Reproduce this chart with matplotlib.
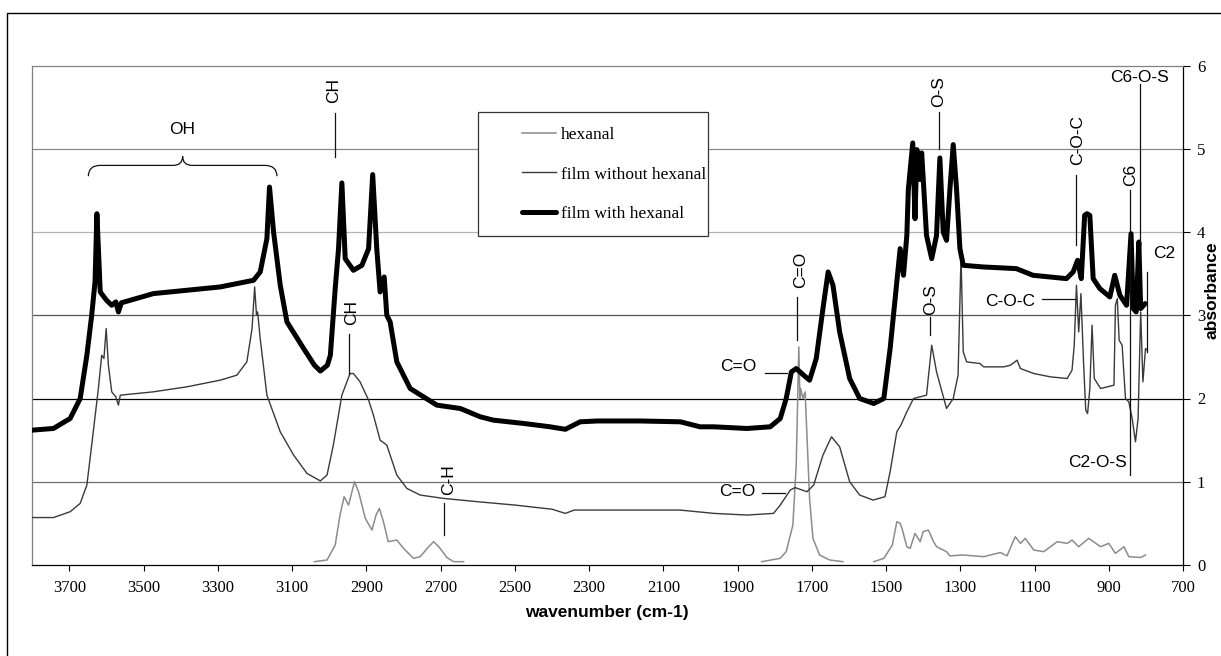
import numpy as np
import matplotlib
matplotlib.use("Agg")
import matplotlib.pyplot as plt
from matplotlib.lines import Line2D
from matplotlib.patches import Rectangle, PathPatch
from matplotlib.path import Path

NAN = np.nan

# ---------------- data ----------------
hexanal_wn = [3040, 3006, 2984, 2971, 2960, 2948, 2932, 2921, 2903, 2885, 2874, 2865, 2854, 2841,
              2818, 2800, 2773, 2755, 2732, 2719, 2705, 2683, 2665, 2638, NAN,
              1835, 1785, 1769, 1751, 1742, 1738, 1735, 1732, 1730, 1724, 1718, 1706, 1697, 1679,
              1652, 1616, NAN,
              1533, 1506, 1483, 1471, 1462, 1457, 1444, 1435, 1422, 1408, 1400, 1386, 1372, 1364,
              1337, 1328, 1292, 1237, 1192, 1174, 1152, 1138, 1125, 1102, 1075, 1039, 1012, 999,
              981, 954, 922, 900, 882, 859, 846, 814, 801]
hexanal_abs = [0.04, 0.06, 0.24, 0.60, 0.82, 0.72, 1.00, 0.88, 0.56, 0.42, 0.60, 0.68, 0.52, 0.28,
               0.30, 0.20, 0.08, 0.10, 0.22, 0.28, 0.22, 0.09, 0.04, 0.04, NAN,
               0.04, 0.08, 0.16, 0.48, 1.20, 2.00, 2.62, 2.00, 2.12, 2.00, 2.08, 0.80, 0.32, 0.12,
               0.06, 0.04, NAN,
               0.04, 0.08, 0.24, 0.52, 0.50, 0.44, 0.22, 0.20, 0.38, 0.28, 0.40, 0.42, 0.28, 0.22,
               0.16, 0.11, 0.12, 0.10, 0.15, 0.11, 0.34, 0.26, 0.32, 0.18, 0.16, 0.28, 0.26, 0.30,
               0.22, 0.32, 0.22, 0.26, 0.14, 0.22, 0.10, 0.09, 0.12]

without_wn = [3800, 3743, 3698, 3671, 3653, 3640, 3622, 3613, 3607, 3601, 3595, 3586, 3575, 3568,
              3563, 3474, 3384, 3294, 3249, 3222, 3208, 3201, 3196, 3193, 3186, 3168, 3132, 3096,
              3060, 3024, 3006, 2989, 2966, 2944, 2935, 2917, 2894, 2881, 2863, 2845, 2818, 2791,
              2755, 2692, 2600, 2500, 2400, 2364, 2340, 2200, 2055, 1964, 1875, 1803, 1785, 1758,
              1745, 1713, 1695, 1670, 1647, 1625, 1598, 1571, 1535, 1503, 1489, 1471, 1460, 1444,
              1426, 1391, 1377, 1364, 1337, 1319, 1306, 1298, 1292, 1283, 1247, 1237, 1183, 1165,
              1147, 1138, 1102, 1057, 1012, 999, 993, 987, 981, 975, 968, 962, 957, 951, 945, 939,
              922, 886, 882, 877, 872, 864, 855, 846, 837, 828, 821, 814, 808, 801, 796]
without_abs = [0.57, 0.57, 0.64, 0.74, 0.96, 1.44, 2.12, 2.52, 2.48, 2.84, 2.40, 2.08, 2.02, 1.92,
               2.04, 2.08, 2.14, 2.22, 2.28, 2.44, 2.84, 3.34, 3.00, 3.04, 2.72, 2.04, 1.60, 1.32,
               1.10, 1.01, 1.08, 1.44, 2.04, 2.30, 2.30, 2.20, 1.98, 1.80, 1.50, 1.44, 1.08, 0.92,
               0.84, 0.80, 0.76, 0.72, 0.67, 0.62, 0.66, 0.66, 0.66, 0.62, 0.60, 0.62, 0.72, 0.90,
               0.93, 0.88, 0.96, 1.32, 1.54, 1.42, 1.00, 0.84, 0.78, 0.82, 1.12, 1.60, 1.68, 1.84,
               2.00, 2.04, 2.64, 2.32, 1.88, 2.00, 2.28, 3.70, 2.56, 2.44, 2.42, 2.38, 2.38, 2.40,
               2.46, 2.36, 2.30, 2.26, 2.24, 2.34, 2.64, 3.36, 2.80, 3.26, 2.44, 1.86, 1.82, 2.12,
               2.88, 2.24, 2.12, 2.16, 3.12, 3.20, 2.70, 2.64, 2.00, 1.96, 1.76, 1.48, 1.76, 3.04,
               2.20, 2.60, 2.58]

with_wn = [3800, 3743, 3698, 3671, 3653, 3640, 3631, 3626, 3620, 3617, 3600, 3586, 3575, 3568,
           3560, 3536, 3474, 3384, 3294, 3204, 3186, 3168, 3161, 3150, 3132, 3114, 3069, 3040,
           3024, 3005, 2997, 2984, 2975, 2966, 2957, 2935, 2912, 2894, 2883, 2872, 2863, 2852,
           2845, 2836, 2818, 2782, 2710, 2647, 2593, 2558, 2476, 2405, 2364, 2324, 2278, 2162,
           2054, 2001, 1964, 1875, 1812, 1785, 1769, 1755, 1742, 1722, 1706, 1688, 1670, 1656,
           1643, 1625, 1598, 1571, 1533, 1506, 1489, 1471, 1462, 1453, 1444, 1440, 1428, 1422,
           1417, 1408, 1404, 1398, 1391, 1377, 1364, 1355, 1346, 1337, 1328, 1319, 1310, 1301,
           1292, 1238, 1149, 1104, 1014, 996, 984, 974, 965, 959, 951, 942, 924, 897, 884, 870,
           852, 840, 834, 826, 819, 814, 802]
with_abs = [1.62, 1.64, 1.76, 2.00, 2.52, 3.00, 3.40, 4.22, 3.60, 3.28, 3.18, 3.12, 3.16, 3.04,
            3.15, 3.18, 3.26, 3.30, 3.34, 3.42, 3.52, 3.92, 4.54, 4.00, 3.36, 2.92, 2.60, 2.40,
            2.33, 2.40, 2.52, 3.32, 3.80, 4.59, 3.68, 3.54, 3.60, 3.80, 4.69, 3.80, 3.28, 3.46,
            3.00, 2.92, 2.44, 2.12, 1.92, 1.88, 1.78, 1.74, 1.70, 1.66, 1.63, 1.72, 1.73, 1.73,
            1.72, 1.66, 1.66, 1.64, 1.66, 1.76, 2.00, 2.32, 2.36, 2.28, 2.22, 2.48, 3.08, 3.52,
            3.36, 2.80, 2.24, 2.00, 1.94, 2.00, 2.60, 3.40, 3.80, 3.48, 3.96, 4.51, 5.07, 4.16,
            4.99, 4.63, 4.95, 4.50, 3.96, 3.68, 3.96, 4.89, 4.00, 3.90, 4.51, 5.05, 4.51, 3.80,
            3.60, 3.58, 3.56, 3.48, 3.44, 3.52, 3.66, 3.44, 4.20, 4.22, 4.20, 3.44, 3.32, 3.22,
            3.48, 3.24, 3.12, 3.98, 3.08, 3.04, 3.88, 3.08, 3.14]

series_labels = ["hexanal", "film without hexanal", "film with hexanal"]
x_ticks = list(range(700, 3701, 200))
y_ticks = [0, 1, 2, 3, 4, 5, 6]

# annotations: (text, text_wn, text_abs, rotation, ha, line_wn_list, line_abs_list)
annotations = [
    ("CH", 2989, 5.70, 90, "center", [2984, 2984], [5.43, 4.90]),
    ("CH", 2939, 3.03, 90, "center", [2948, 2948], [2.78, 2.30]),
    ("C-H", 2678, 1.02, 90, "center", [2692, 2692], [0.74, 0.36]),
    ("C=O", 1729, 3.54, 90, "center", [1740, 1740], [3.22, 2.70]),
    ("C=O", 1897, 2.38, 0, "center", [1825, 1767], [2.31, 2.31]),
    ("C=O", 1902, 0.88, 0, "center", [1834, 1771], [0.87, 0.87]),
    ("O-S", 1381, 3.19, 90, "center", [1381, 1381], [2.98, 2.76]),
    ("O-S", 1358, 5.69, 90, "center", [1356, 1356], [5.44, 5.00]),
    ("C-O-C", 985, 5.10, 90, "center", [987, 987], [4.68, 3.84]),
    ("C-O-C", 1166, 3.17, 0, "center", [1080, 990], [3.19, 3.19]),
    ("C6", 842, 4.69, 90, "center", [843, 843], [4.50, 1.08]),
    ("C2-O-S", 851, 1.23, 0, "right", None, None),
    ("C6-O-S", 816, 5.86, 0, "center", [816, 816], [5.78, 3.87]),
    ("C2", 780, 3.74, 0, "left", [797, 797], [3.52, 2.56]),
]

# ---------------- figure ----------------
W, H = 1221, 656
fig = plt.figure(figsize=(W / 100, H / 100), dpi=100)
fig.patch.set_facecolor("white")


def fx(px):
    return px / W


def fy(py):
    return 1 - py / H


ax = fig.add_axes([fx(32.3), fy(565), fx(1183) - fx(32.3), fy(65.5) - fy(565)])
ax.set_xlim(3800, 700)
ax.set_ylim(0, 6)

SERIF = "Liberation Serif"
SANS = "Liberation Sans"

# grid lines with individual shades
grid_colors = {1: "#6e6e6e", 2: "#000000", 3: "#555555", 4: "#b4b4b4", 5: "#8a8a8a"}
for yv, c in grid_colors.items():
    ax.axhline(yv, color=c, lw=0.9, zorder=1)

l1, = ax.plot(hexanal_wn, hexanal_abs, color="#8c8c8c", lw=1.1, zorder=3)
l2, = ax.plot(without_wn, without_abs, color="#3a3a3a", lw=1.0, zorder=3)
l3, = ax.plot(with_wn, with_abs, color="black", lw=3.6, zorder=4,
              solid_joinstyle="round", solid_capstyle="round")

# spines
for s in ["left", "top"]:
    ax.spines[s].set_color("#808080")
    ax.spines[s].set_linewidth(0.9)
for s in ["right", "bottom"]:
    ax.spines[s].set_color("black")
    ax.spines[s].set_linewidth(0.9)

ax.set_xticks(x_ticks)
ax.set_xticklabels([str(t) for t in x_ticks], fontfamily=SERIF, fontsize=12)
ax.set_yticks(y_ticks)
ax.set_yticklabels([str(t) for t in y_ticks], fontfamily=SERIF, fontsize=12)
ax.yaxis.tick_right()
ax.tick_params(axis="x", direction="out", length=4, width=0.8, pad=7)
ax.tick_params(axis="y", direction="out", length=5, width=0.8, pad=5)

# annotations
for txt, twn, tab, rot, ha, lwn, lab in annotations:
    ax.text(twn, tab, txt, rotation=rot, ha=ha, va="center", fontfamily=SANS,
            fontsize=12.5, zorder=6)
    if lwn is not None:
        ax.plot(lwn, lab, color="#111111", lw=0.9, zorder=5)

# OH brace
brace_verts = [(3649, 4.67), (3649, 4.80), (3617, 4.80),
               (3421, 4.80),
               (3395, 4.80), (3395, 4.91),
               (3395, 4.80), (3369, 4.80),
               (3173, 4.80),
               (3141, 4.80), (3141, 4.67)]
brace_codes = [Path.MOVETO, Path.CURVE3, Path.CURVE3, Path.LINETO, Path.CURVE3, Path.CURVE3,
               Path.CURVE3, Path.CURVE3, Path.LINETO, Path.CURVE3, Path.CURVE3]
ax.add_patch(PathPatch(Path(brace_verts, brace_codes), fill=False, edgecolor="#111111",
                       lw=0.9, zorder=5))
ax.text(3397, 5.23, "OH", ha="center", va="center", fontfamily=SANS, fontsize=12.5, zorder=6)

# legend: white box + frameless legend
box = Rectangle((fx(478.3), fy(236)), fx(708) - fx(478.3), fy(111.7) - fy(236),
                transform=fig.transFigure, facecolor="white", edgecolor="#333333", lw=0.9,
                zorder=7)
ax.add_patch(box)
box.set_clip_on(False)
leg = ax.legend([l1, l2, l3], series_labels, loc="upper left",
                bbox_to_anchor=(fx(521.7), fy(127)), bbox_transform=fig.transFigure,
                frameon=False, borderpad=0, borderaxespad=0, handlelength=2.0,
                handletextpad=0.25, labelspacing=1.34,
                prop={"family": SERIF, "size": 12.5})
leg.set_zorder(8)

# axis titles
fig.text(fx(607), fy(612), "wavenumber (cm-1)", ha="center", va="center",
         fontfamily=SANS, fontweight="bold", fontsize=12.5)
fig.text(fx(1212), fy(290), "absorbance", ha="center", va="center", rotation=90,
         fontfamily=SANS, fontweight="bold", fontsize=12.5)

# outer chart frame (right and bottom edges are outside the picture)
fig.add_artist(Line2D([fx(7.3), fx(7.3), fx(1240)], [fy(700), fy(12.7), fy(12.7)],
                      transform=fig.transFigure, color="black", lw=1.0))

fig.savefig("out.png", dpi=100)
